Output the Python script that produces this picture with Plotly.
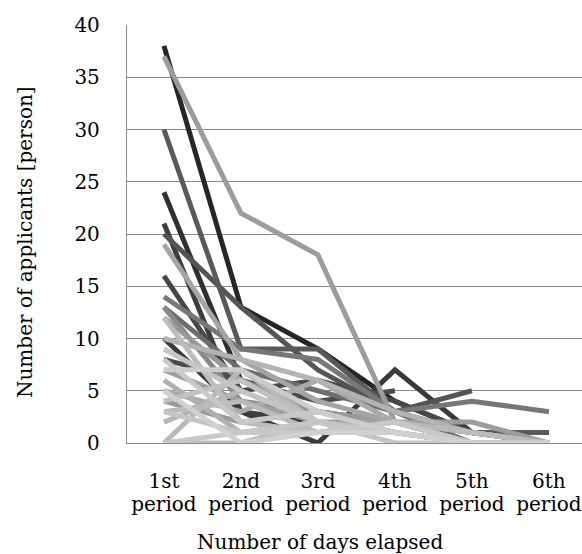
import plotly.graph_objects as go

periods = ["1st", "2nd", "3rd", "4th", "5th", "6th"]
period_word = ["period"] * 6
x_pos = [0, 1, 2, 3, 4, 5]

s01 = [38, 13, 9, 4, 1, 0]
s02 = [37, 22, 18, 2, 2, 0]
s03 = [30, 9, 9, 3, 1, 1]
s04 = [24, 6, 3, 2, 0, 0]
s05 = [21, 3, 2, 1, 0, 0]
s06 = [20, 13, 7, 3, 5, None]
s07 = [19, 8, 4, 2, 1, 0]
s08 = [16, 5, 6, 4, 1, 0]
s09 = [14, 9, 8, 3, 4, 3]
s10 = [13, 7, 5, 3, 0, 0]
s11 = [13, 4, 3, 2, 1, 0]
s12 = [12, 6, 3, 1, 0, 0]
s13 = [12, 2, 1, 2, 0, 0]
s14 = [10, 3, 0, 7, 1, 1]
s15 = [10, 8, 6, 3, 1, 0]
s16 = [9, 5, 2, 1, 0, 0]
s17 = [8, 6, 4, 5, None, None]
s18 = [8, 2, 3, 1, 0, 0]
s19 = [7, 4, 2, 2, 1, 0]
s20 = [7, 7, 3, 1, 0, 0]
s21 = [6, 1, 2, 1, 0, 0]
s22 = [5, 3, 6, 2, 0, 0]
s23 = [5, 0, 1, 1, 0, 0]
s24 = [4, 2, 3, 2, 1, 0]
s25 = [4, 6, 2, 1, 0, 0]
s26 = [3, 4, 1, 2, 1, 0]
s27 = [3, 1, 2, 0, 0, 0]
s28 = [2, 5, 2, 1, 0, 0]
s29 = [0, 7, 2, 1, 0, 0]
s30 = [0, 1, 1, 2, 0, 0]
s31 = [0, 0, 2, 1, 0, 0]

series = [s01, s02, s03, s04, s05, s06, s07, s08, s09, s10, s11, s12, s13, s14, s15,
          s16, s17, s18, s19, s20, s21, s22, s23, s24, s25, s26, s27, s28, s29, s30, s31]
colors = ["#262626", "#9c9c9c", "#595959", "#303030", "#3d3d3d", "#555555", "#a5a5a5",
          "#474747", "#777777", "#6e6e6e", "#8a8a8a", "#999999", "#bdbdbd", "#3a3a3a",
          "#b3b3b3", "#c4c4c4", "#4d4d4d", "#c9c9c9", "#a0a0a0", "#cccccc", "#b0b0b0",
          "#aaaaaa", "#d0d0d0", "#9a9a9a", "#c0c0c0", "#bababa", "#c6c6c6", "#b5b5b5",
          "#b8b8b8", "#c8c8c8", "#bcbcbc"]

def lum(c):
    return int(c[1:3], 16)

order = sorted(range(len(series)), key=lambda i: lum(colors[i]))

fig = go.Figure()
for i in order:
    fig.add_trace(go.Scatter(x=x_pos, y=series[i], mode="lines",
                             line=dict(color=colors[i], width=5),
                             showlegend=False, hoverinfo="skip"))
# invisible trace for second label row axis
fig.add_trace(go.Scatter(x=x_pos, y=[None] * 6, xaxis="x2", mode="lines",
                         showlegend=False, hoverinfo="skip"))

font = "DejaVu Serif"
grid = "#8a8a8a"
fig.update_layout(
    width=582, height=554,
    margin=dict(l=127, r=0, t=25, b=111),
    paper_bgcolor="white", plot_bgcolor="white",
    font=dict(family=font, size=20, color="black"),
    xaxis=dict(range=[-0.48, 5.43], tickmode="array", tickvals=x_pos, ticktext=periods,
               showgrid=False, zeroline=False, showline=True, linecolor=grid, linewidth=1.3,
               ticks="", ticklabelstandoff=20, tickfont=dict(family=font, size=20)),
    xaxis2=dict(range=[-0.48, 5.43], overlaying="x", side="bottom", anchor="y",
                tickmode="array", tickvals=x_pos, ticktext=period_word,
                showgrid=False, zeroline=False, showline=False, ticks="",
                ticklabelstandoff=47, tickfont=dict(family=font, size=20)),
    yaxis=dict(range=[0, 40], dtick=5, showgrid=True, gridcolor=grid, gridwidth=1.3,
               zeroline=False, showline=True, linecolor=grid, linewidth=1.3,
               ticks="", ticklabelstandoff=22, tickfont=dict(family=font, size=20)),
    annotations=[
        dict(text="Number of applicants [person]", xref="paper", yref="paper",
             x=-0.224, y=0.481, xanchor="center", yanchor="middle", textangle=-90,
             showarrow=False, font=dict(family=font, size=20)),
        dict(text="Number of days elapsed", xref="paper", yref="paper",
             x=0.424, y=-0.236, xanchor="center", yanchor="middle",
             showarrow=False, font=dict(family=font, size=20)),
    ],
)

fig.write_html("out.html", config={"displayModeBar": False},
               post_script="document.body.style.margin='0';")
